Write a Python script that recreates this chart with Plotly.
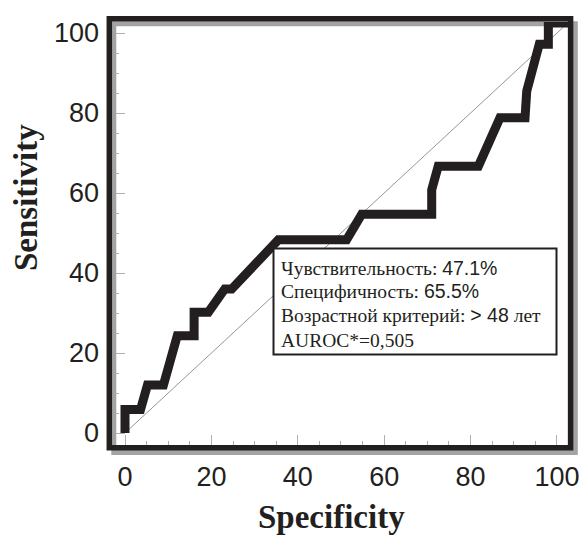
import plotly.graph_objects as go

# ROC curve (x = "Specificity" axis, y = Sensitivity, %)
spec = [0, 0, 3.6, 5.2, 8.9, 12.1, 16.0, 16.0, 19.3, 23.1, 24.7, 35.5, 51.3, 54.8,
        71.0, 71.0, 72.5, 81.8, 86.8, 92.6, 93.0, 95.9, 98.0, 98.0, 103.0]
sens = [0, 5.9, 5.9, 12.0, 12.0, 24.3, 24.3, 30.2, 30.2, 36.0, 36.0, 48.3, 48.3, 54.7,
        54.7, 60.8, 66.7, 66.7, 78.8, 78.8, 85.5, 97.2, 97.2, 102.5, 102.5]
diag_x = [0, 103]
diag_y = [0, 103]

tick_vals = [0, 20, 40, 60, 80, 100]
tick_text = ["0", "20", "40", "60", "80", "100"]

box_lines = [
    ("Чувствительность: ", "47.1%", ""),
    ("Специфичность: ", "65.5%", ""),
    ("Возрастной критерий: ", "> 48", " лет"),
    ("AUROC*=0,505", "", ""),
]

W, H = 580, 535
L, R, T, B = 115, 568, 22, 445  # plot area in pixels

def px(p):
    return (p - L) / (R - L)

def py(p):
    return (B - p) / (B - T)

INK = "#231f20"
SERIF = "Times New Roman, Liberation Serif, serif"
SANS = "Arial, Liberation Sans, sans-serif"

fig = go.Figure()
fig.add_trace(go.Scatter(x=diag_x, y=diag_y, mode="lines",
                         line=dict(color="#8a8a8a", width=0.9), hoverinfo="skip"))
fig.add_trace(go.Scatter(x=spec, y=sens, mode="lines",
                         line=dict(color=INK, width=9), hoverinfo="skip"))

shapes = []
# gray shadow frame (offset down-right)
shapes.append(dict(type="rect", xref="paper", yref="paper", layer="below",
                   x0=px(113.8), x1=px(575.3), y0=py(452.6), y1=py(23.8),
                   line=dict(color="#a3a3a3", width=5), fillcolor="rgba(0,0,0,0)"))
# black frame
shapes.append(dict(type="rect", xref="paper", yref="paper", layer="above",
                   x0=px(109.3), x1=px(570.6), y0=py(447.8), y1=py(18.8),
                   line=dict(color=INK, width=5.5), fillcolor="rgba(0,0,0,0)"))
# info box
shapes.append(dict(type="rect", xref="paper", yref="paper", layer="above",
                   x0=px(273.5), x1=px(556.5), y0=py(354.5), y1=py(248.5),
                   line=dict(color=INK, width=2), fillcolor="white"))
fig.update_layout(shapes=shapes)

annotations = []
line_y = [267.5, 291.0, 315.0, 340.0]
for (a, b, c), yy in zip(box_lines, line_y):
    txt = a
    if b:
        txt += '<span style="font-family:Arial, Liberation Sans, sans-serif">' + b + "</span>"
    txt += c
    annotations.append(dict(text=txt, xref="paper", yref="paper", x=px(279), y=py(yy),
                            xanchor="left", yanchor="middle", showarrow=False,
                            font=dict(family=SERIF, size=19.5, color=INK)))
annotations.append(dict(text="<b>Specificity</b>", xref="paper", yref="paper",
                        x=px(331), y=py(517), xanchor="center", yanchor="middle",
                        showarrow=False, font=dict(family=SERIF, size=33, color=INK)))
annotations.append(dict(text="<b>Sensitivity</b>", xref="paper", yref="paper",
                        x=px(26), y=py(198), xanchor="center", yanchor="middle",
                        textangle=-90, showarrow=False,
                        font=dict(family=SERIF, size=33, color=INK)))
fig.update_layout(annotations=annotations)

axis_common = dict(
    tickvals=tick_vals, ticktext=tick_text, ticks="inside", ticklen=10, tickwidth=1,
    tickcolor="#b0b0b0", showgrid=False, zeroline=False, showline=False,
    automargin=False,
    tickfont=dict(family=SANS, size=27, color=INK),
    minor=dict(dtick=5, tick0=0, ticks="inside", ticklen=4, tickcolor="#b0b0b0", showgrid=False),
)
fig.update_xaxes(range=[-2.315, 102.55], ticklabelstandoff=13, **axis_common)
fig.update_yaxes(range=[-3.0, 102.75], ticklabelstandoff=15, **axis_common)

fig.update_layout(
    width=W, height=H,
    margin=dict(l=L, r=W - R, t=T, b=H - B),
    paper_bgcolor="white", plot_bgcolor="rgba(0,0,0,0)",
    showlegend=False,
)
fig.write_html("out.html", config={"displayModeBar": False},
               post_script="document.body.style.margin='0';document.body.style.overflow='hidden';")
